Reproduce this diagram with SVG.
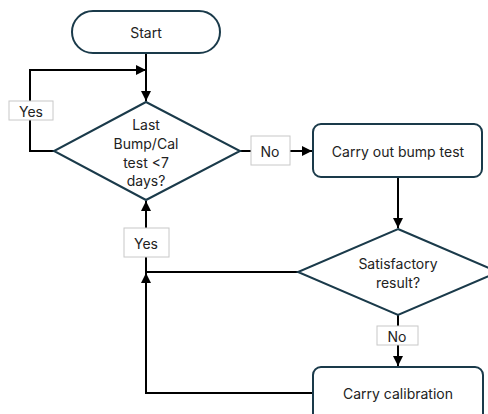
<svg xmlns="http://www.w3.org/2000/svg" width="488" height="414" viewBox="0 0 488 414">
<defs>
<style>
.node{fill:#fff;stroke:#1a3a4a;stroke-width:2}
.lbl{fill:#fff;stroke:#c8c8c8;stroke-width:1}
.conn{fill:none;stroke:#000;stroke-width:2}
text{font-family:Inter,"Open Sans","Liberation Sans",sans-serif;font-size:14px;fill:#222;text-anchor:middle;dominant-baseline:central}
</style>
<marker id="arr" viewBox="0 0 10 10" refX="10" refY="5" markerWidth="5" markerHeight="5" orient="auto" markerUnits="strokeWidth">
<path d="M0,0 L10,5 L0,10 z" fill="#000"/>
</marker>
</defs>
<rect width="488" height="414" fill="#fff"/>
<g id="connectors">
<path class="conn" d="M146,53 V101" marker-end="url(#arr)"/>
<path class="conn" d="M54,151 H30 V70 H146" marker-end="url(#arr)"/>
<path class="conn" d="M240,151 H312" marker-end="url(#arr)"/>
<path class="conn" d="M398,177 V228" marker-end="url(#arr)"/>
<path class="conn" d="M298,272 H146 V201" marker-end="url(#arr)"/>
<path class="conn" d="M398,315 V366" marker-end="url(#arr)"/>
<path class="conn" d="M313,393 H146 V273" marker-end="url(#arr)"/>
</g>
<g id="label-yes1"><rect class="lbl" x="9" y="101" width="44" height="19"/><text x="31" y="111">Yes</text></g>
<g id="label-no1"><rect class="lbl" x="251" y="136" width="39" height="29"/><text x="270" y="151">No</text></g>
<g id="label-yes2"><rect class="lbl" x="124" y="228" width="45" height="29"/><text x="146" y="243">Yes</text></g>
<g id="label-no2"><rect class="lbl" x="377" y="326" width="41" height="19"/><text x="397" y="336">No</text></g>
<g id="start"><rect class="node" x="72" y="11" width="148" height="42" rx="21"/><text x="146" y="32">Start</text></g>
<g id="decision1"><path class="node" d="M146,102 L240,151 L146,200 L54,151 Z"/>
<text x="146" y="124">Last</text><text x="146" y="143">Bump/Cal</text><text x="146" y="162">test &lt;7</text><text x="146" y="180">days?</text></g>
<g id="bump"><rect class="node" x="313" y="124" width="169" height="53" rx="8"/><text x="398" y="151">Carry out bump test</text></g>
<g id="decision2"><path class="node" d="M398,229 L498,272 L398,315 L298,272 Z"/>
<text x="398" y="263">Satisfactory</text><text x="398" y="282">result?</text></g>
<g id="calibration"><rect class="node" x="313" y="367" width="170" height="60" rx="8"/><text x="398" y="393">Carry calibration</text></g>
</svg>
